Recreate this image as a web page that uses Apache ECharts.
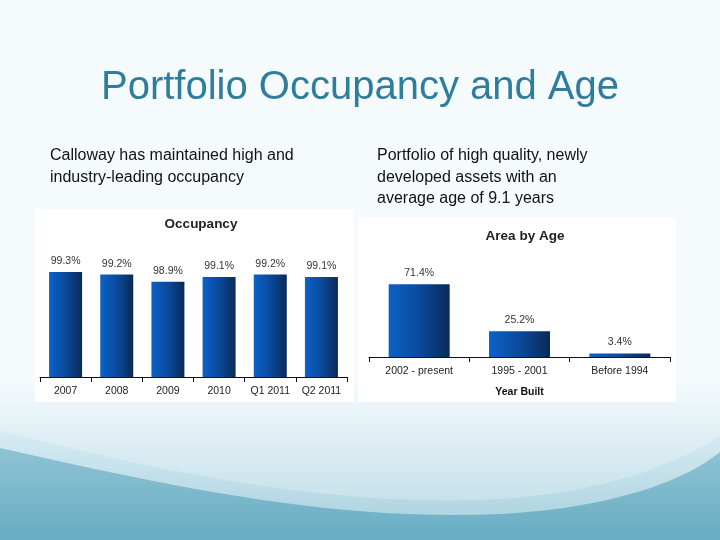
<!DOCTYPE html>
<html>
<head>
<meta charset="utf-8">
<script src="https://cdn.jsdelivr.net/npm/echarts@6/dist/echarts.min.js"></script>
<style>
html,body{margin:0;padding:0;background:#f5fbfd;}
#wrap{position:relative;width:720px;height:540px;}
#bg{position:absolute;left:0;top:0;}
#chart{position:absolute;left:0;top:0;width:720px;height:540px;}
</style>
</head>
<body>
<div id="wrap">
<svg id="bg" width="720" height="540" xmlns="http://www.w3.org/2000/svg">
  <defs>
    <linearGradient id="g0" x1="0" y1="0" x2="0" y2="1">
      <stop offset="0" stop-color="#f5fbfd"/><stop offset="1" stop-color="#b8d9e5"/>
    </linearGradient>
    <linearGradient id="g1" x1="0" y1="0" x2="0" y2="1">
      <stop offset="0" stop-color="#d8ecf3"/><stop offset="1" stop-color="#a4cedc"/>
    </linearGradient>
    <linearGradient id="g2" x1="0" y1="0" x2="0" y2="1">
      <stop offset="0" stop-color="#8fc3d3"/><stop offset="1" stop-color="#68adc3"/>
    </linearGradient>
  </defs>
  <rect x="0" y="0" width="720" height="540" fill="#f5fbfd"/>
  <rect x="0" y="380" width="720" height="160" fill="url(#g0)"/>
  <path d="M0,430 C150,470 320,505 480,500 C590,496 670,468 720,436 L720,540 L0,540 Z" fill="url(#g1)"/>
  <path d="M0,448 C160,484 330,522 500,514 C600,509 680,485 720,452 L720,540 L0,540 Z" fill="url(#g2)"/>
  <rect x="35" y="209" width="319" height="193" fill="#ffffff"/>
  <rect x="358" y="218" width="318" height="184" fill="#ffffff"/>
</svg>
<div id="chart"></div>
</div>
<script>
// ---- data ----
const occCategories = ['2007', '2008', '2009', '2010', 'Q1 2011', 'Q2 2011'];
const occValues = [99.3, 99.2, 98.9, 99.1, 99.2, 99.1];
const ageCategories = ['2002 - present', '1995 - 2001', 'Before 1994'];
const ageValues = [71.4, 25.2, 3.4];
const mainTitle = 'Portfolio Occupancy and Age';
const leftText = ['Calloway has maintained high and', 'industry-leading occupancy'];
const rightText = ['Portfolio of high quality, newly', 'developed assets with an', 'average age of 9.1 years'];

const FONT = '"Liberation Sans", Arial, sans-serif';
const barGrad = new echarts.graphic.LinearGradient(0, 0, 1, 0, [
  {offset: 0, color: '#0b62c8'},
  {offset: 0.5, color: '#0a4a9c'},
  {offset: 1, color: '#0a2a58'}
]);

const chart = echarts.init(document.getElementById('chart'));
const option = {
  backgroundColor: 'transparent',
  animation: false,
  title: [
    {text: mainTitle, left: 'center', top: 63,
     textStyle: {fontFamily: FONT, fontSize: 40, fontWeight: 'normal', color: '#2f7d9d'}},
    {text: 'Occupancy', left: 196, textAlign: 'center', top: 212,
     textStyle: {fontFamily: FONT, fontSize: 13.5, fontWeight: 'bold', color: '#222'}},
    {text: 'Area by Age', left: 520, textAlign: 'center', top: 224,
     textStyle: {fontFamily: FONT, fontSize: 13.5, fontWeight: 'bold', color: '#222'}}
  ],
  graphic: {elements: [
    {type: 'text', left: 50, top: 145,
     style: {text: leftText.join('\n'), fontFamily: FONT, fontSize: 16, lineHeight: 22, fill: '#111'}},
    {type: 'text', left: 377, top: 145,
     style: {text: rightText.join('\n'), fontFamily: FONT, fontSize: 16, lineHeight: 21.5, fill: '#111'}}
  ]},
  grid: [
    {left: 40, width: 307, top: 255, height: 122},
    {left: 369, width: 301, top: 255, height: 102}
  ],
  xAxis: [
    {type: 'category', gridIndex: 0, data: occCategories,
     axisLine: {lineStyle: {color: '#111', width: 1}},
     axisTick: {show: true, interval: 0, length: 5, lineStyle: {color: '#111'}},
     axisLabel: {interval: 0, fontFamily: FONT, fontSize: 10.5, color: '#222', margin: 9}},
    {type: 'category', gridIndex: 1, data: ageCategories,
     name: 'Year Built', nameLocation: 'middle', nameGap: 30,
     nameTextStyle: {fontFamily: FONT, fontSize: 10.5, fontWeight: 'bold', color: '#111'},
     axisLine: {lineStyle: {color: '#111', width: 1}},
     axisTick: {show: true, interval: 0, length: 5, lineStyle: {color: '#111'}},
     axisLabel: {interval: 0, fontFamily: FONT, fontSize: 10.5, color: '#222', margin: 9}}
  ],
  yAxis: [
    {type: 'value', gridIndex: 0, min: 95, max: 100, show: false},
    {type: 'value', gridIndex: 1, min: 0, max: 100, show: false}
  ],
  series: [
    {type: 'bar', xAxisIndex: 0, yAxisIndex: 0, data: occValues, barWidth: 33,
     itemStyle: {color: barGrad},
     label: {show: true, position: 'top', distance: 5, formatter: p => p.value.toFixed(1) + '%',
       fontFamily: FONT, fontSize: 10.5, color: '#333'}},
    {type: 'bar', xAxisIndex: 1, yAxisIndex: 1, data: ageValues, barWidth: 61,
     itemStyle: {color: barGrad},
     label: {show: true, position: 'top', distance: 6, formatter: p => p.value.toFixed(1) + '%',
       fontFamily: FONT, fontSize: 10.5, color: '#333'}}
  ]
};
chart.setOption(option);
</script>
</body>
</html>
